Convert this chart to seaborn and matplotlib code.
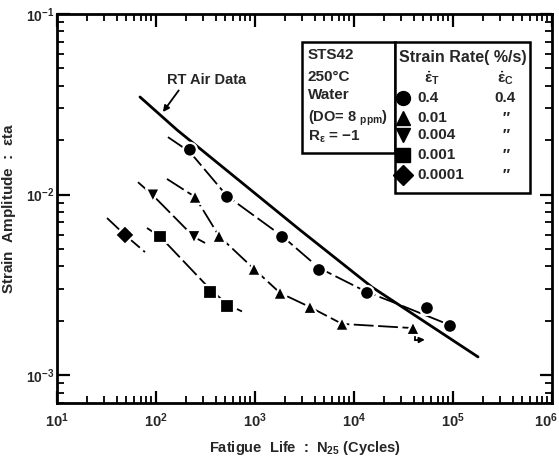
import numpy as np
import pandas as pd
import matplotlib
matplotlib.use("Agg")
import matplotlib.pyplot as plt
from matplotlib.ticker import LogLocator, NullFormatter, FuncFormatter
from matplotlib.patches import Rectangle
from matplotlib.transforms import ScaledTranslation
import seaborn as sns

# ---------------- data ----------------
circle_N = [220, 521, 1875, 4430, 13530, 54600, 93300]
circle_e = [0.0177, 0.0097, 0.00582, 0.00382, 0.00285, 0.00235, 0.00187]

tri_N = [248, 433, 977, 1790, 3590, 7570, 39400]
tri_e = [0.0097, 0.00589, 0.00387, 0.00285, 0.00238, 0.00192, 0.00182]

tridown_N = [93, 242]
tridown_e = [0.0099, 0.00582]

square_N = [110, 351, 521]
square_e = [0.00585, 0.00288, 0.00241]

diamond_N = [48.6]
diamond_e = [0.00597]

# fitted / reference curves
rt_air_N = [68.9, 163, 2850, 15200, 179000]
rt_air_e = [0.0347, 0.0228, 0.00636, 0.00307, 0.00126]

circle_fit_N = [132, 220, 521, 1875, 4430, 13530, 25900, 93300]
circle_fit_e = [0.0208, 0.0172, 0.00982, 0.00589, 0.00392, 0.00288, 0.00251, 0.00189]

tri_fit_N = [129, 248, 433, 977, 1790, 3590, 7570, 39400]
tri_fit_e = [0.0122, 0.0097, 0.00589, 0.00387, 0.00285, 0.00238, 0.00192, 0.00182]

tridown_fit_N = [65.8, 93, 242, 313]
tridown_fit_e = [0.0117, 0.0099, 0.00582, 0.00539]

square_fit_N = [81.1, 110, 340, 521, 739]
square_fit_e = [0.00652, 0.00585, 0.00305, 0.00247, 0.00225]

diamond_fit_N = [32, 48.6, 77.4]
diamond_fit_e = [0.00741, 0.00597, 0.0048]

runout_N = [41300, 41300, 52000]
runout_e = [0.00172, 0.00156, 0.00157]

legend_labels = ["0.4", "0.01", "0.004", "0.001", "0.0001"]
legend_comp = ["0.4", "\u2033", "\u2033", "\u2033", "\u2033"]
series_names = ["circle", "tri", "tridown", "square", "diamond"]
series_markers = {"circle": "o", "tri": "^", "tridown": "v", "square": "s", "diamond": "D"}

x_ticks = [1e1, 1e2, 1e3, 1e4, 1e5, 1e6]
y_ticks = [1e-3, 1e-2, 1e-1]

# ---------------- style ----------------
sns.set_theme(style="ticks")
plt.rcParams["font.family"] = ["Liberation Sans", "DejaVu Sans"]
plt.rcParams["font.weight"] = "bold"
plt.rcParams["mathtext.fontset"] = "custom"
plt.rcParams["mathtext.rm"] = "Liberation Sans:bold"
plt.rcParams["mathtext.it"] = "Liberation Sans:bold:italic"
plt.rcParams["mathtext.bf"] = "Liberation Sans:bold"
plt.rcParams["mathtext.default"] = "rm"

fig = plt.figure(figsize=(5.59, 4.59), dpi=100)
ax = fig.add_axes([57 / 559, 56 / 459, 495 / 559, 389 / 459])

# points
frames = []
for name, xs, ys in [("circle", circle_N, circle_e), ("tri", tri_N, tri_e),
                     ("tridown", tridown_N, tridown_e), ("square", square_N, square_e),
                     ("diamond", diamond_N, diamond_e)]:
    frames.append(pd.DataFrame({"N": xs, "e": ys, "series": name}))
pts = pd.concat(frames, ignore_index=True)

# curves
sns.lineplot(x=rt_air_N, y=rt_air_e, ax=ax, color="black", lw=2.0, sort=False, estimator=None)
dash = (0, (11, 2.5))
for xs, ys in [(circle_fit_N, circle_fit_e), (tri_fit_N, tri_fit_e),
               (tridown_fit_N, tridown_fit_e), (square_fit_N, square_fit_e),
               (diamond_fit_N, diamond_fit_e)]:
    sns.lineplot(x=xs, y=ys, ax=ax, color="black", lw=1.3, sort=False,
                 estimator=None, linestyle=dash)

sns.scatterplot(data=pts, x="N", y="e", style="series", markers=series_markers,
                style_order=series_names, color="black", s=100, edgecolor="white",
                linewidth=1.6, legend=False, ax=ax, zorder=5)

# run-out arrow
ax.plot(runout_N[:2], runout_e[:2], color="black", lw=1.3)
ax.annotate("", xy=(runout_N[2], runout_e[2]), xytext=(runout_N[1], runout_e[1]),
            arrowprops=dict(arrowstyle="-|>", color="black", lw=1.3,
                            mutation_scale=8, shrinkA=0, shrinkB=0))

ax.set_xscale("log")
ax.set_yscale("log")
ax.set_xlim(10, 1e6)
ax.set_ylim(7.0e-4, 1e-1)

fmt = FuncFormatter(lambda v, p: r"$10^{%d}$" % int(round(np.log10(v))))
ax.set_xticks(x_ticks)
ax.set_yticks(y_ticks)
ax.xaxis.set_major_formatter(fmt)
ax.yaxis.set_major_formatter(fmt)
ax.xaxis.set_minor_locator(LogLocator(base=10, subs=np.arange(2, 10), numticks=20))
ax.yaxis.set_minor_locator(LogLocator(base=10, subs=np.arange(2, 10), numticks=20))
ax.xaxis.set_minor_formatter(NullFormatter())
ax.yaxis.set_minor_formatter(NullFormatter())
ax.tick_params(which="both", direction="in", top=True, right=True, color="black")
ax.tick_params(which="major", length=9, width=1.6, labelsize=10.5)
ax.tick_params(axis="x", which="major", pad=6)
ax.tick_params(axis="y", which="major", pad=2, labelsize=10)
ax.tick_params(which="minor", length=5, width=1.3)
for sp in ax.spines.values():
    sp.set_linewidth(2.0)
    sp.set_color("black")

ax.set_xlabel("Fatigue  Life  :  N$_{25}$ (Cycles)", fontsize=10.5, fontweight="bold")
ax.set_ylabel(r"Strain  Amplitude  :  $\varepsilon$ta", fontsize=11, fontweight="bold")
ax.xaxis.set_label_coords(0.50, -0.093)
ax.yaxis.set_label_coords(-0.078, 0.50)

fig.canvas.draw()
last = ax.get_xticklabels()[-1]
last.set_transform(last.get_transform() + ScaledTranslation(-6 / 100, 0, fig.dpi_scale_trans))

# RT Air Data annotation
ax.annotate("RT Air Data", xy=(0.214, 0.748), xytext=(0.222, 0.830),
            xycoords="axes fraction", textcoords="axes fraction",
            fontsize=10.5, fontweight="bold", va="center", ha="left",
            arrowprops=dict(arrowstyle="-|>", color="black", lw=1.3,
                            mutation_scale=9, shrinkA=0, shrinkB=0,
                            relpos=(0.18, 0.0)))

# info boxes
ax.add_patch(Rectangle((0.495, 0.643), 0.188, 0.285, transform=ax.transAxes,
                       fill=True, facecolor="white", edgecolor="black", lw=1.8, zorder=6))
ax.add_patch(Rectangle((0.683, 0.540), 0.273, 0.388, transform=ax.transAxes,
                       fill=True, facecolor="white", edgecolor="black", lw=1.8, zorder=6))

left_lines = ["STS42", "250\u00b0C", "Water", r"(DO= 8 $\mathregular{_{ppm}}$)",
              "R$_{\\varepsilon}$ = \u22121"]
left_sizes = [11, 11, 11, 10.5, 11]
for txt, y, fs in zip(left_lines, [0.895, 0.838, 0.792, 0.733, 0.684], left_sizes):
    ax.text(0.507, y, txt, transform=ax.transAxes, fontsize=fs, fontweight="bold",
            va="center", ha="left", zorder=7)

ax.text(0.820, 0.887, "Strain Rate( %/s)", transform=ax.transAxes, fontsize=11.5,
        fontweight="bold", va="center", ha="center", zorder=7)
ax.text(0.758, 0.835, r"$\dot{\varepsilon}_{\rm T}$", transform=ax.transAxes,
        fontsize=11, va="center", ha="center", zorder=7)
ax.text(0.905, 0.835, r"$\dot{\varepsilon}_{\rm C}$", transform=ax.transAxes,
        fontsize=11, va="center", ha="center", zorder=7)
for name, lab, comp, y in zip(series_names, legend_labels, legend_comp,
                              [0.784, 0.733, 0.689, 0.638, 0.586]):
    ax.plot([0.699], [y], marker=series_markers[name], color="black", ms=10,
            transform=ax.transAxes, zorder=7, clip_on=False, ls="none")
    ax.text(0.729, y, lab, transform=ax.transAxes, fontsize=11, fontweight="bold",
            va="center", ha="left", zorder=7)
    ax.text(0.905, y, comp, transform=ax.transAxes, fontsize=11, fontweight="bold",
            va="center", ha="center", zorder=7,
            style="normal" if comp[0].isdigit() else "italic")

fig.savefig("out.png", dpi=100)
